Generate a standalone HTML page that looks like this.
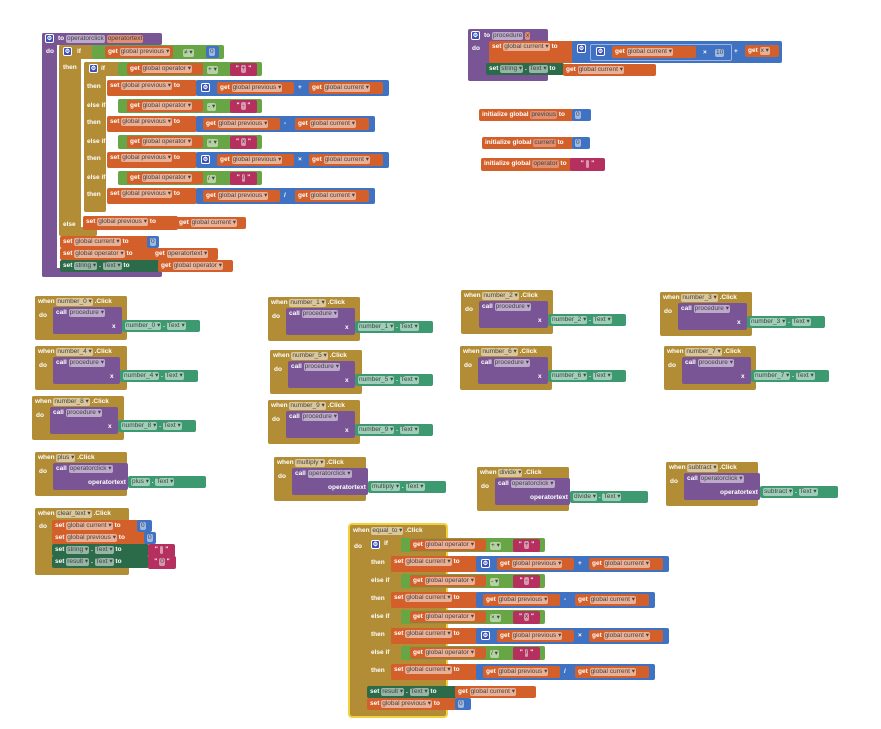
<!DOCTYPE html>
<html><head><meta charset="utf-8">
<style>
html,body{margin:0;padding:0;background:#fff;width:881px;height:729px;overflow:hidden}
#c{position:relative;width:881px;height:729px}
.b{position:absolute;box-sizing:border-box;border-radius:2px;font:bold 6.5px "Liberation Sans",sans-serif;color:#fff;white-space:nowrap;padding-left:3px;overflow:visible}
.g{background:#b38d35}
.p{background:#7a5596}
.o{background:#d3602b}
.gr{background:#68a544}
.bl{background:#4072c3}
.m{background:#b5305f}
.dg{background:#2c6b4a}
.tg{background:#3d9a70}
.l{background:none;padding:0}
.sel{outline:2px solid #f2d23c}
i{font-style:normal;font-weight:normal;background:rgba(255,255,255,.5);color:#444;padding:0 1px;border-radius:2px;line-height:8px;display:inline-block}
.gear{background:#3a4fb8;border:1px solid #fff;padding:0;font-size:6px;line-height:7px;text-align:center}
</style></head><body><div id="c"></div>
<script>
const P=document.getElementById('c');
function R(x,y,w,h,c,t,st){const d=document.createElement('div');d.className='b '+c;d.style.cssText=`left:${x}px;top:${y}px;width:${w}px;height:${h}px;line-height:${Math.min(h,12)}px;`+(st||'');d.innerHTML=t||'';P.appendChild(d);return d}
const F=s=>`<i>${s}</i>`;
const D=s=>F(s+' ▾');
function L(x,y,t){return R(x,y,0,12,'l',t)}
function G(x,y,w,n){return R(x,y,w,12,'o',`get ${D(n)}`)}
function N(x,y,w,v){return R(x,y,w,12,'bl',F(v))}
function S(x,y,w,v){return R(x,y,w,13,'m',`" ${F(v)} "`,'text-align:center;padding:0')}
function SET(x,y,w,h,n){return R(x,y,w,h,'o',`set ${D(n)} to`)}
function GEAR(x,y){R(x,y,9,9,'gear','⚙')}
function arith(x,y,w,op,gear,v1,v2){R(x,y,w,16,'bl');if(gear)GEAR(x+5,y+3);
 const g1=x+(gear?21:7);G(g1,y+2,77,v1);L(g1+81,y+2,op);G(x+w-80,y+2,74,v2);}
function cmp(x,y,w,sym,rhs){R(x,y,w,14,'gr');G(x+9,y+1,76,'global operator');R(x+89,y+3,15,9,'l',F(sym+' ▾'));S(x+w-32,y+1,27,rhs);}
// main procedure
R(42,33,120,12,'p');R(42,33,15,244,'p');R(42,268,120,9,'p');
GEAR(45,34);L(58,33,'to '+F('operatorclick')+' <i style="background:#e09070">operatortext</i>');L(46,46,'do');
R(59,45,38,14,'g');R(59,45,22,190,'g');R(59,227,38,9,'g');GEAR(63,47);L(77,46,'if');L(63,62,'then');L(63,219,'else');
R(92,45,132,14,'gr');G(105,46,68,'global previous');R(183,48,15,9,'l',F('≠ ▾'));N(206,46,13,'0');
R(84,62,36,14,'g');R(84,62,22,150,'g');R(84,204,14,8,'g');GEAR(89,64);L(101,63,'if');
[['+',62,80,193,1],['-',99,116,179,0],['×',135,152,193,1],['/',171,188,179,0]].forEach(([op,cy,sy,w,gr],i)=>{
 cmp(118,cy,144,op,op=='×'?'x':op);L(87,i?cy+1:81,i?'else if':'');L(87,sy+1,'then');
 SET(107,sy,90,16,'global previous');arith(196,sy,w,op,gr,'global previous','global current');});
SET(83,216,95,14,'global previous');G(176,217,70,'global current');
SET(60,236,90,12,'global current');N(147,236,12,'0');
SET(60,248,95,12,'global operator');G(152,248,66,'operatortext');
R(60,260,100,12,'dg',`set ${D('string')} . ${D('Text')} to`);G(158,260,75,'global operator');
// procedure
R(468,29,80,52,'p');GEAR(471,31);L(484,30,'to '+F('procedure')+' <i style="background:#e09070">x</i>');L(472,43,'do');
R(489,41,85,22,'o',`set ${D('global current')} to`);R(572,41,210,22,'bl');GEAR(577,44);
R(590,44,142,17,'bl','','border:1px solid #9db4e0');GEAR(596,47);G(612,46,84,'global current');L(703,47,'×');N(712,47,17,'10');
L(734,46,'+');G(745,45,34,'x');
R(486,63,78,12,'dg',`set ${D('string')} . ${D('Text')} to`);G(563,64,93,'global current');
// initialize
R(479,109,95,12,'o',`initialize global <i style="background:#e09070">previous</i> to`);N(572,109,19,'0');
R(482,137,92,12,'o',`initialize global <i style="background:#e09070">current</i> to`);N(572,137,18,'0');
R(481,158,92,13,'o',`initialize global <i style="background:#e09070">operator</i> to`);S(570,158,35,'&nbsp;');
// events
function ev(x,y,comp,tg,callN,arg){const hw=92;const cw=tg-x-18;
 R(x,y,hw,44,'g');R(x,y,hw,12,'g',`when ${D(comp)} .Click`);L(x+4,y+14,'do');
 R(x+18,y+11,cw,27,'p',`call ${D(callN)}`,'line-height:12px');
 L(tg-(arg=='x'?10:40),y+25,arg);
 R(tg,y+24,78,12,'tg',`${D(comp)} . ${D('Text')}`);}
[['number_0',35,296,122],['number_1',268,297,355],['number_4',35,346,120],['number_5',270,350,355],
 ['number_8',32,396,118],['number_9',268,400,355],['number_2',461,290,548],['number_3',660,292,747],
 ['number_6',460,346,548],['number_7',664,346,751]].forEach(a=>ev(a[1],a[2],a[0],a[3],'procedure','x'));
[['plus',35,452,128],['multiply',274,457,368],['divide',477,467,570],['subtract',666,462,760]].forEach(a=>ev(a[1],a[2],a[0],a[3],'operatorclick','operatortext'));
// clear_text
R(35,508,94,67,'g');R(35,508,94,12,'g',`when ${D('clear_text')} .Click`);L(39,521,'do');
SET(52,520,88,12,'global current');N(137,520,15,'0');
SET(52,532,96,12,'global previous');N(144,532,12,'0');
R(52,544,97,12,'dg',`set ${D('string')} . ${D('Text')} to`);S(148,544,27,'&nbsp;');
R(52,556,97,12,'dg',`set ${D('result')} . ${D('Text')} to`);S(148,556,28,'0');
// equal_to
R(350,525,96,191,'g sel');R(350,525,88,12,'g',`when ${D('equal_to')} .Click`);L(354,541,'do');
R(367,537,34,14,'g');R(367,537,22,150,'g');GEAR(371,540);L(384,538,'if');
[['+',538,556,193,1],['-',574,592,179,0],['×',610,628,193,1],['/',646,664,179,0]].forEach(([op,cy,sy,w,gr],i)=>{
 cmp(401,cy,144,op,op=='×'?'x':op);if(i)L(371,cy+1,'else if');L(371,sy+1,'then');
 SET(391,sy,87,16,'global current');arith(476,sy,w,op,gr,'global previous','global current');});
R(367,686,90,12,'dg',`set ${D('result')} . ${D('Text')} to`);G(455,686,81,'global current');
SET(367,698,90,12,'global previous');N(455,698,16,'0');
</script></body></html>
